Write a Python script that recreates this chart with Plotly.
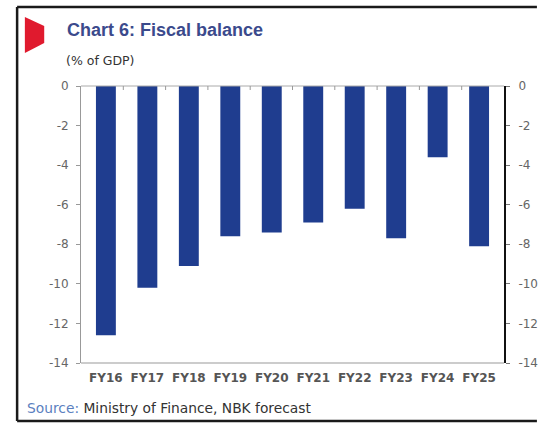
import plotly.graph_objects as go

categories = ["FY16", "FY17", "FY18", "FY19", "FY20", "FY21", "FY22", "FY23", "FY24", "FY25"]
balance = [-12.6, -10.2, -9.1, -7.6, -7.4, -6.9, -6.2, -7.7, -3.6, -8.1]
y_ticks = [0, -2, -4, -6, -8, -10, -12, -14]

W, H = 550, 424
L, R, T, B = 81, 518, 86, 363
pw, ph = R - L, B - T

def px(x):
    return (x - L) / pw

def py(y):
    return (B - y) / ph

fig = go.Figure()
fig.add_trace(go.Bar(x=categories, y=balance, marker=dict(color="#1f3d8f", line=dict(width=0)),
                     width=0.48, xaxis="x", yaxis="y"))
fig.add_trace(go.Scatter(x=categories, y=balance, mode="markers", marker=dict(opacity=0),
                         xaxis="x", yaxis="y2", hoverinfo="skip", showlegend=False))

tickfont = dict(family="DejaVu Sans", size=12, color="#666666")
fig.update_layout(
    width=W, height=H, autosize=False,
    margin=dict(l=L, r=W - R, t=T, b=H - B),
    paper_bgcolor="white", plot_bgcolor="white",
    showlegend=False,
    xaxis=dict(type="category", showgrid=False, zeroline=False, showline=False,
               ticks="", tickfont=dict(family="DejaVu Sans", size=12, color="#555555", weight="bold"),
               ticklabelstandoff=6),
    yaxis=dict(range=[-14, 0], tickvals=y_ticks, ticktext=[str(v) for v in y_ticks],
               showgrid=False, zeroline=False, showline=True, linecolor="#999999", linewidth=1,
               ticks="outside", ticklen=4, tickcolor="#999999", tickfont=tickfont,
               ticklabelstandoff=5),
    yaxis2=dict(range=[-14, 0], tickvals=y_ticks, ticktext=[str(v) for v in y_ticks],
                overlaying="y", side="right", showgrid=False, zeroline=False,
                showline=True, linecolor="#111111", linewidth=2,
                ticks="outside", ticklen=4, tickcolor="#777777", tickfont=tickfont,
                ticklabelstandoff=6),
)

shapes = []
shapes.append(dict(type="line", xref="paper", yref="paper", x0=0, x1=1, y0=1, y1=1,
                   line=dict(color="#aaaaaa", width=1)))
shapes.append(dict(type="line", xref="paper", yref="paper", x0=0, x1=1, y0=0, y1=0,
                   line=dict(color="#999999", width=1.2)))
for i in range(1, len(categories)):
    xx = i / len(categories)
    shapes.append(dict(type="line", xref="paper", yref="paper", x0=xx, x1=xx,
                       y0=1, y1=1 - 4 / ph, line=dict(color="#999999", width=1)))
frame = dict(color="#1a1a1a", width=2.5)
shapes.append(dict(type="line", xref="paper", yref="paper", x0=px(15), x1=px(15),
                   y0=py(421), y1=py(7), line=frame))
shapes.append(dict(type="line", xref="paper", yref="paper", x0=px(15), x1=px(552),
                   y0=py(7), y1=py(7), line=frame))
shapes.append(dict(type="line", xref="paper", yref="paper", x0=px(15), x1=px(552),
                   y0=py(421), y1=py(421), line=frame))
pts = [(23, 17), (43, 26), (43, 43), (23, 53)]
path = "M " + " L ".join(f"{px(x)},{py(y)}" for x, y in pts) + " Z"
shapes.append(dict(type="path", xref="paper", yref="paper", path=path,
                   fillcolor="#e01a2e", line=dict(width=0)))
fig.update_layout(shapes=shapes)

fig.add_annotation(xref="paper", yref="paper", x=px(64), y=py(30), xanchor="left", yanchor="middle",
                   text="<b>Chart 6: Fiscal balance</b>", showarrow=False,
                   font=dict(family="Arial", size=18, color="#3b4a8c"))
fig.add_annotation(xref="paper", yref="paper", x=px(63), y=py(60), xanchor="left", yanchor="middle",
                   text="(% of GDP)", showarrow=False,
                   font=dict(family="DejaVu Sans", size=12.5, color="#333333"))
fig.add_annotation(xref="paper", yref="paper", x=px(23), y=py(408), xanchor="left", yanchor="middle",
                   text="<span style='color:#5b7fc0'>Source:</span> Ministry of Finance, NBK forecast",
                   showarrow=False, font=dict(family="DejaVu Sans", size=13.8, color="#333333"))

post = (
    "document.documentElement.style.overflow='hidden';"
    "document.documentElement.style.margin='0px';"
    "document.body.style.margin='0px';"
    "document.body.style.padding='0px';"
    "document.body.style.overflow='hidden';"
    "var gd=document.getElementById('{plot_id}');"
    "Plotly.relayout(gd,{width:550,height:424});"
)
fig.write_html("out.html", config={"displayModeBar": False, "responsive": False},
               post_script=post)
